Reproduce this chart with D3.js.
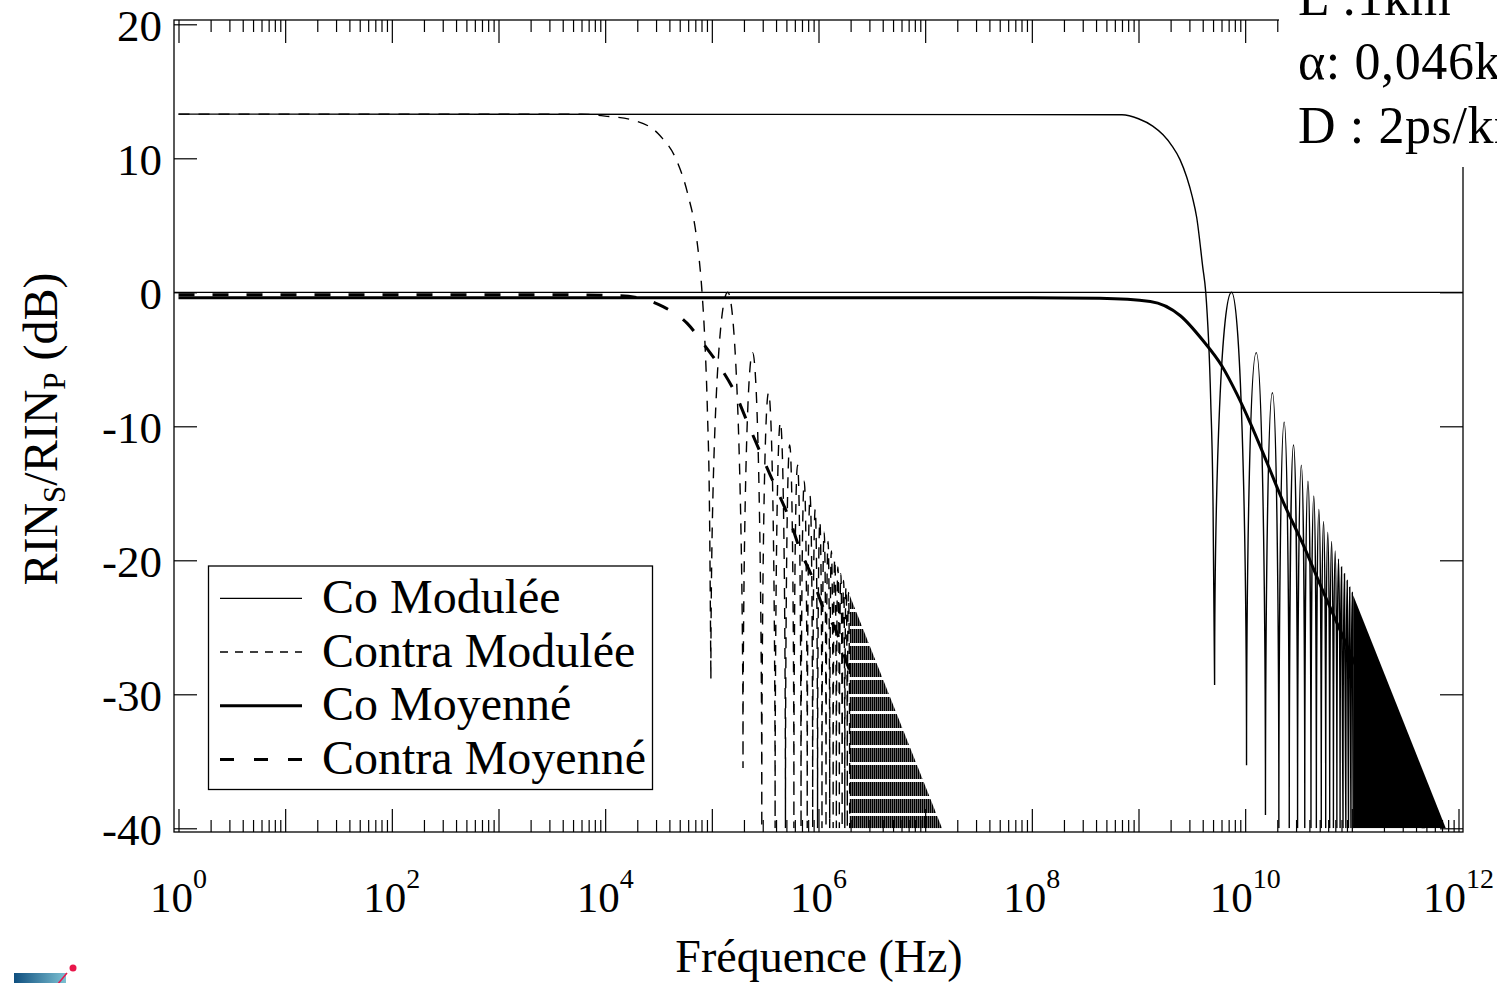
<!DOCTYPE html>
<html>
<head>
<meta charset="utf-8">
<script src="https://cdn.jsdelivr.net/npm/d3@7"></script>
<style>
  html, body { margin: 0; padding: 0; background: #fff; }
  svg { display: block; }
  text { font-family: "Liberation Serif", "DejaVu Serif", serif; fill: #000; }
</style>
</head>
<body>
<svg id="chart" width="1497" height="983"></svg>
<script>
// ---------------- data ----------------
const xTickExps = [0, 2, 4, 6, 8, 10, 12];
const yTicks = [20, 10, 0, -10, -20, -30, -40];

const legendLabels = ["Co Modulée", "Contra Modulée", "Co Moyenné", "Contra Moyenné"];
const infoLines = ["L :1km", "α: 0,046km⁻¹", "D : 2ps/km"];

// Co Modulée: flat level + main-lobe roll-off [Hz, dB]
const coModRolloff = [[1,13.3],[7e8,13.25],[1.0e9,12.95],[1.36e9,12.4],[1.7e9,11.75],[2.05e9,10.95],[2.45e9,9.9],
  [2.83e9,8.6],[3.2e9,7.1],[3.51e9,5.6],[4.0e9,1.9],[4.27e9,0],[4.75e9,-8],[5.0e9,-16],[5.17e9,-29.3]];
// Co Modulée: individual side lobes (nulls, null depth, peak position, peak level)
const coModNulls = [5.17e9,1.03e10,1.55e10,2.07e10,2.59e10,3.10e10,3.62e10,4.14e10,4.65e10,5.17e10,
  5.69e10,6.20e10,6.72e10,7.24e10,7.76e10,8.27e10,8.79e10,9.31e10,9.82e10,1.03e11];
const coModNullDb = [-29.3,-35.3,-39,-40,-40,-40,-40,-40,-40,-40,-40,-40,-40,-40,-40,-40,-40,-40,-40,-40];
const coModPeakF = [7.45e9,1.27e10,1.80e10,2.32e10,2.84e10,3.36e10,3.88e10,4.40e10,4.91e10,5.43e10,
  5.95e10,6.46e10,6.98e10,7.50e10,8.01e10,8.53e10,9.05e10,9.56e10,1.01e11];
const coModPeakDb = [0,-4.5,-7.5,-9.7,-11.4,-12.9,-14.1,-15.2,-16.2,-17.1,-17.9,-18.6,-19.3,-19.9,-20.5,-21.0,-21.5,-22.0,-22.4];
// Co Modulée: dense (unresolved) lobes, upper envelope
const coModDense = [[1.03e11,-22.6],[7.6e11,-40]];

// Contra Modulée
const contraModRolloff = [[1,13.3],[6e3,13.3],[1.0e4,13.15],[1.82e4,12.85],[3.26e4,11.7],[4.7e4,9.8],
  [5.96e4,7.3],[7.24e4,3.9],[8.06e4,0.2],[8.6e4,-3.6],[9.1e4,-9],[9.5e4,-16],[9.8e4,-28.9]];
const contraModNulls = [9.8e4,1.96e5,2.94e5,3.92e5,4.9e5,5.88e5,6.86e5,7.84e5,8.82e5,9.8e5,
  1.078e6,1.176e6,1.274e6,1.372e6,1.47e6,1.568e6,1.666e6,1.764e6,1.862e6,1.96e6];
const contraModNullDb = [-28.9,-35.5,-40,-40,-40,-40,-40,-40,-40,-40,-40,-40,-40,-40,-40,-40,-40,-40,-40,-40];
const contraModPeakF = [1.41e5,2.41e5,3.40e5,4.39e5,5.37e5,6.36e5,7.35e5,8.33e5,9.31e5,1.03e6,
  1.13e6,1.23e6,1.32e6,1.42e6,1.52e6,1.62e6,1.72e6,1.81e6,1.91e6];
const contraModPeakDb = [0,-4.5,-7.5,-9.7,-11.4,-12.9,-14.1,-15.2,-16.2,-17.1,-17.9,-18.6,-19.3,-19.9,-20.5,-21.0,-21.5,-22.0,-22.4];
const contraModDense = [[1.96e6,-22.6],[1.44e7,-40]];

// Averaged curves
const coMoy = [[1,-0.4],[1e8,-0.4],[4.35e8,-0.45],[1.29e9,-0.68],[2.47e9,-1.75],[4.02e9,-3.6],[6.05e9,-5.5],
  [8.37e9,-7.6],[1.11e10,-9.7],[1.6e10,-12.7],[2.26e10,-15.6],[3.48e10,-18.8],[5.36e10,-22.3],[8.26e10,-25.7],
  [1.96e11,-32.6],[4.35e11,-39.5],[5e11,-40.5]];
const contraMoy = [[1,-0.18],[3e3,-0.18],[1.38e4,-0.25],[3.49e4,-1.07],[5.85e4,-2.3],[8.26e4,-3.8],[1.19e5,-5.55],
  [1.65e5,-7.5],[2.13e5,-9.6],[3.01e5,-12.4],[4.07e5,-14.75],[5.39e5,-17],[6.7e5,-19.2],[8.67e5,-21.2],
  [1.1e6,-23.5],[1.49e6,-25.4],[1.85e6,-27.7],[2.2e6,-29.2]];

// ---------------- layout ----------------
const svg = d3.select("#chart");
const frame = {left: 174, top: 20, right: 1463, bottom: 832};
const x = d3.scaleLog().domain([1, 1e12]).range([178.5, 1458.5]);
const y = d3.scaleLinear().domain([-40, 20]).range([828.3, 24.3]);

const defs = svg.append("defs");
defs.append("clipPath").attr("id", "plotClip").append("rect")
  .attr("x", frame.left).attr("y", frame.top)
  .attr("width", frame.right - frame.left).attr("height", y(-40) - frame.top);
const pat = defs.append("pattern").attr("id", "dashFill")
  .attr("patternUnits", "userSpaceOnUse").attr("width", 2).attr("height", 17);
pat.append("rect").attr("x", 0).attr("y", 0).attr("width", 1.6).attr("height", 14).attr("fill", "#000");
const grad = defs.append("linearGradient").attr("id", "logoGrad");
grad.append("stop").attr("offset", "0%").attr("stop-color", "#0f4f7f");
grad.append("stop").attr("offset", "100%").attr("stop-color", "#7cc0d2");

// ---------------- axes ----------------
const majors = d3.range(0, 13).map(e => Math.pow(10, e));
const minors = [];
d3.range(0, 12).forEach(e => { for (let k = 2; k <= 9; k++) minors.push(k * Math.pow(10, e)); });

function styleAxis(g) {
  g.select(".domain").remove();
  g.selectAll("line").attr("stroke", "#000").attr("stroke-width", 1.2);
  g.selectAll("text").remove();
}
svg.append("g").attr("transform", `translate(0,${frame.bottom})`)
  .call(d3.axisBottom(x).tickValues(majors).tickSize(-23).tickFormat("")).call(styleAxis);
svg.append("g").attr("transform", `translate(0,${frame.bottom})`)
  .call(d3.axisBottom(x).tickValues(minors).tickSize(-12).tickFormat("")).call(styleAxis);
svg.append("g").attr("transform", `translate(0,${frame.top})`)
  .call(d3.axisTop(x).tickValues(majors).tickSize(-23).tickFormat("")).call(styleAxis);
svg.append("g").attr("transform", `translate(0,${frame.top})`)
  .call(d3.axisTop(x).tickValues(minors).tickSize(-12).tickFormat("")).call(styleAxis);
svg.append("g").attr("transform", `translate(${frame.right},0)`)
  .call(d3.axisRight(y).tickValues(yTicks).tickSize(-23).tickFormat("")).call(styleAxis);

const leftAxis = svg.append("g").attr("transform", `translate(${frame.left},0)`)
  .call(d3.axisLeft(y).tickValues(yTicks).tickSize(-23).tickPadding(12).tickFormat(d => String(d)));
leftAxis.select(".domain").remove();
leftAxis.selectAll("line").attr("stroke", "#000").attr("stroke-width", 1.2);
leftAxis.selectAll("text").attr("font-size", 45).attr("dy", "0.35em")
  .style("font-family", "'Liberation Serif', serif").attr("fill", "#000");

// frame
svg.append("rect").attr("x", frame.left).attr("y", frame.top)
  .attr("width", frame.right - frame.left).attr("height", frame.bottom - frame.top)
  .attr("fill", "none").attr("stroke", "#000").attr("stroke-width", 1.3);

// x tick labels 10^n
xTickExps.forEach(e => {
  const t = svg.append("text").attr("x", x(Math.pow(10, e))).attr("y", 912)
    .attr("text-anchor", "middle").attr("font-size", 43);
  t.append("tspan").text("10");
  t.append("tspan").attr("font-size", 28).attr("dy", -24).text(String(e));
});

// axis titles
svg.append("text").attr("x", 819).attr("y", 972).attr("text-anchor", "middle")
  .attr("font-size", 46).text("Fréquence (Hz)");
const yt = svg.append("text").attr("transform", "translate(57,429) rotate(-90)")
  .attr("text-anchor", "middle").attr("font-size", 48);
yt.append("tspan").text("RIN");
yt.append("tspan").attr("font-size", 31).attr("dy", 8).text("S");
yt.append("tspan").attr("dy", -8).text("/RIN");
yt.append("tspan").attr("font-size", 31).attr("dy", 8).text("P");
yt.append("tspan").attr("dy", -8).text(" (dB)");

// ---------------- curves ----------------
const plot = svg.append("g").attr("clip-path", "url(#plotClip)");

// zero reference line
plot.append("line").attr("x1", frame.left).attr("x2", frame.right)
  .attr("y1", y(0)).attr("y2", y(0)).attr("stroke", "#000").attr("stroke-width", 1.2);

const lineGen = d3.line().x(d => x(d[0])).y(d => y(d[1])).curve(d3.curveMonotoneX);
const areaGen = d3.area().x(d => x(d[0])).y0(y(-40)).y1(d => y(d[1]));

function modPath(rolloff, nulls, nullDb, peakF, peakDb) {
  let d = lineGen(rolloff);
  const k = 0.552;
  for (let i = 0; i < peakF.length; i++) {
    const x0 = x(nulls[i]), y0 = y(nullDb[i]);
    const xp = x(peakF[i]), yp = y(peakDb[i]);
    const x1 = x(nulls[i + 1]), y1 = y(nullDb[i + 1]);
    d += `C${x0},${y0 + (yp - y0) * k} ${xp - (xp - x0) * k},${yp} ${xp},${yp}`;
    d += `C${xp + (x1 - xp) * k},${yp} ${x1},${y1 + (yp - y1) * k} ${x1},${y1}`;
  }
  return d;
}

// Co Modulée (thin solid)
plot.append("path").attr("d", areaGen(coModDense)).attr("fill", "#000");
plot.append("path").attr("d", modPath(coModRolloff, coModNulls, coModNullDb, coModPeakF, coModPeakDb))
  .attr("fill", "none").attr("stroke", "#000").attr("stroke-width", 1.4);

// Contra Modulée (thin dashed)
plot.append("path").attr("d", areaGen(contraModDense)).attr("fill", "url(#dashFill)");
plot.append("path").attr("d", modPath(contraModRolloff, contraModNulls, contraModNullDb, contraModPeakF, contraModPeakDb))
  .attr("fill", "none").attr("stroke", "#000").attr("stroke-width", 1.4).attr("stroke-dasharray", "11,9");

// Co Moyenné (thick solid)
plot.append("path").attr("d", lineGen(coMoy)).attr("fill", "none")
  .attr("stroke", "#000").attr("stroke-width", 3);
// Contra Moyenné (thick dashed)
plot.append("path").attr("d", lineGen(contraMoy)).attr("fill", "none")
  .attr("stroke", "#000").attr("stroke-width", 3).attr("stroke-dasharray", "16,18");

// ---------------- legend ----------------
const lg = svg.append("g");
lg.append("rect").attr("x", 208.5).attr("y", 566).attr("width", 444).attr("height", 223.5)
  .attr("fill", "#fff").attr("stroke", "#000").attr("stroke-width", 1.3);
const legendStyles = [
  {w: 1.3, dash: null}, {w: 1.3, dash: "8,7"}, {w: 3, dash: null}, {w: 3, dash: "14,20"}
];
legendLabels.forEach((lab, i) => {
  const ly = 598.3 + i * 53.7;
  const l = lg.append("line").attr("x1", 220).attr("x2", 302).attr("y1", ly).attr("y2", ly)
    .attr("stroke", "#000").attr("stroke-width", legendStyles[i].w);
  if (legendStyles[i].dash) l.attr("stroke-dasharray", legendStyles[i].dash);
  lg.append("text").attr("x", 322).attr("y", ly + 14.5).attr("font-size", 48).text(lab);
});

// ---------------- parameter box (top right) ----------------
svg.append("rect").attr("x", 1279).attr("y", 0).attr("width", 230).attr("height", 167).attr("fill", "#fff");
infoLines.forEach((t, i) => {
  svg.append("text").attr("x", 1298).attr("y", 15 + i * 64).attr("font-size", 52)
    .attr("letter-spacing", 0.6).text(t);
});

// ---------------- small logo fragment (bottom left) ----------------
svg.append("rect").attr("x", 14).attr("y", 973).attr("width", 52).attr("height", 12).attr("fill", "url(#logoGrad)");
svg.append("line").attr("x1", 57).attr("y1", 985).attr("x2", 67).attr("y2", 973)
  .attr("stroke", "#e8164a").attr("stroke-width", 1.5);
svg.append("circle").attr("cx", 73).attr("cy", 968).attr("r", 3.5).attr("fill", "#e8164a");
</script>
</body>
</html>
